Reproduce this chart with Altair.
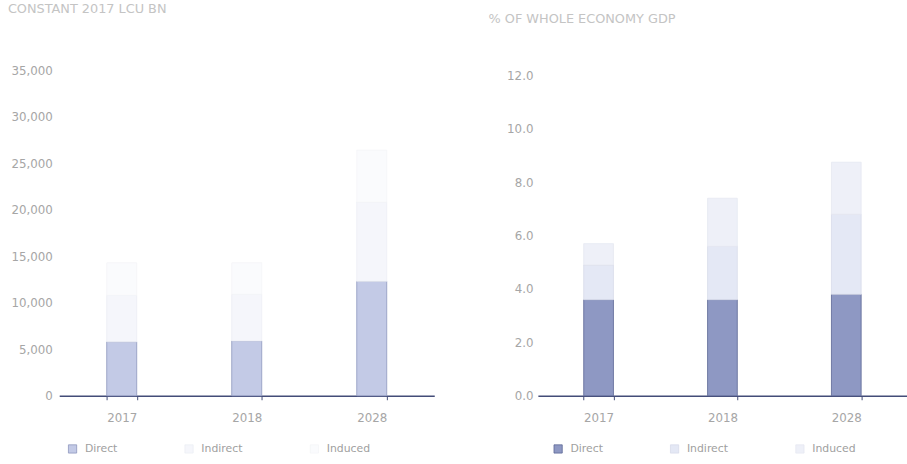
import altair as alt
import pandas as pd

years = ["2017", "2018", "2028"]
series = ["Direct", "Indirect", "Induced"]

left_title = "CONSTANT 2017 LCU BN"
left_direct = [5800, 5900, 12300]
left_indirect = [5000, 5000, 8500]
left_induced = [3500, 3400, 5600]
left_ticks = [0, 5000, 10000, 15000, 20000, 25000, 30000, 35000]

right_title = "% OF WHOLE ECONOMY GDP"
right_direct = [3.6, 3.6, 3.8]
right_indirect = [1.3, 2.0, 3.0]
right_induced = [0.8, 1.8, 1.95]
right_ticks = [0, 2, 4, 6, 8, 10, 12]

left_colors = ["#c3cae6", "#f5f6fb", "#fafbfd"]
left_strokes = ["#8d96bd", "#eceef4", "#f4f5f8"]
right_colors = ["#8e98c3", "#e4e8f5", "#eef0f8"]
right_strokes = ["#5b6594", "#d8dbe9", "#e6e8f1"]


def make_df(direct, indirect, induced):
    rows = []
    for i, y in enumerate(years):
        for k, (s, vals) in enumerate(zip(series, [direct, indirect, induced])):
            rows.append({"Year": y, "Series": s, "Value": vals[i], "Idx": k})
    return pd.DataFrame(rows)


def panel(df, title, title_offset, title_dx, colors, strokes, ticks, dom, fmt,
          width, yext, ylabpad, pad_outer, legend_x):
    return alt.Chart(df, title=alt.TitleParams(
        text=title, anchor="start", frame="bounds", offset=title_offset, dx=title_dx,
        fontSize=13, fontWeight="normal", color="#c4c4c4")).mark_bar(strokeWidth=0.8).encode(
        x=alt.X("Year:N", sort=years,
                scale=alt.Scale(paddingInner=0.76, paddingOuter=pad_outer),
                axis=alt.Axis(title=None, labelAngle=0, tickBand="extent", tickSize=4,
                              labelPadding=13, labelFontSize=12, labelColor="#a6a6a6",
                              domainColor="#434c78", domainWidth=1.5, tickColor="#434c78")),
        y=alt.Y("Value:Q", stack="zero",
                scale=alt.Scale(domain=dom, nice=False),
                axis=alt.Axis(title=None, values=ticks, format=fmt, grid=False, domain=False,
                              ticks=False, labelFontSize=12, labelColor="#a6a6a6",
                              labelPadding=ylabpad, minExtent=yext, maxExtent=yext)),
        color=alt.Color("Series:N", sort=series,
                        scale=alt.Scale(domain=series, range=colors),
                        legend=alt.Legend(title=None, orient="none", legendX=legend_x, legendY=378,
                                          direction="horizontal", symbolType="square",
                                          symbolSize=70, symbolStrokeColor="#8a8fa8",
                                          symbolStrokeWidth=0.8, labelFontSize=11,
                                          labelColor="#a0a0a0", columnPadding=66,
                                          labelOffset=7)),
        stroke=alt.Stroke("Series:N", scale=alt.Scale(domain=series, range=strokes), legend=None),
        order=alt.Order("Idx:Q"),
    ).properties(width=width, height=330)


left = panel(make_df(left_direct, left_indirect, left_induced), left_title, 49, 3,
             left_colors, left_strokes, left_ticks, [0, 35000], ",.0f", 380, 55, 7, 0.38, 8)
right = panel(make_df(right_direct, right_indirect, right_induced), right_title, 44, -12,
              right_colors, right_strokes, right_ticks, [0, 12.2], ".1f", 374, 38, 5, 0.37, 15)

chart = alt.hconcat(left, right, spacing=55).resolve_scale(
    color="independent", stroke="independent"
).properties(
    padding={"left": 5, "top": 0, "right": 0, "bottom": 0}
).configure(font="DejaVu Sans").configure_view(stroke=None)

chart.save("out.html", embed_options={"renderer": "svg", "actions": False})
